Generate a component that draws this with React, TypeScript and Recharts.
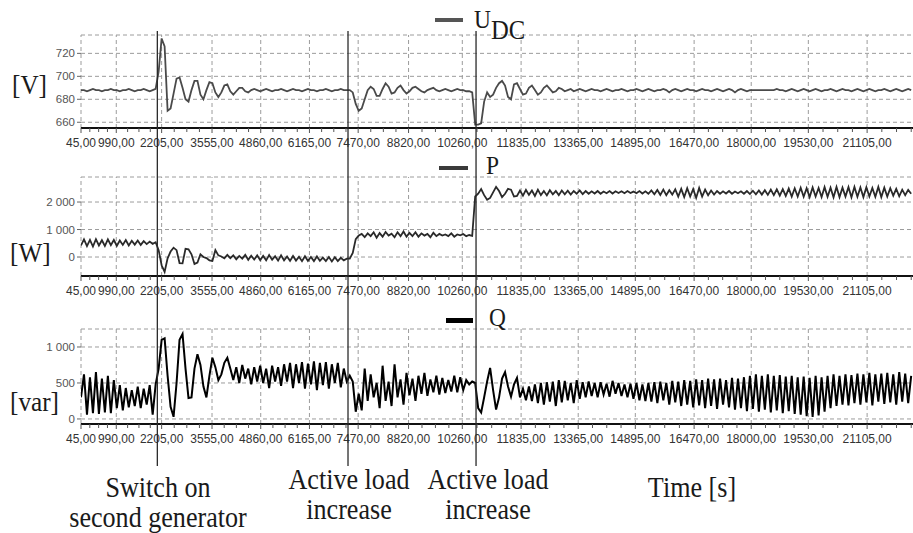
import React from "react";
import { CartesianGrid, Line, LineChart, ReferenceLine, XAxis, YAxis } from "recharts";

// sampling of the recorded signals
const T0 = 45;
const DT = 80;
const X_MAX = 22334;

const xTicks = [45, 990, 2205, 3555, 4860, 6165, 7470, 8820, 10260, 11835, 13365, 14895, 16470, 18000, 19530, 21105];
const events = [2090, 7198, 10628];

const uTicks = [660, 680, 700, 720];
const pTicks = [0, 1000, 2000];
const qTicks = [0, 500, 1000];

const uDC = [
    688, 688, 687, 688, 689, 688, 688, 687, 688, 688,
    689, 688, 688, 687, 688, 688, 689, 688, 687, 688,
    688, 689, 688, 687, 688, 689, 704, 733, 726, 670,
    672, 685, 698, 699, 690, 680, 678, 688, 696, 696,
    684, 680, 688, 695, 694, 686, 682, 686, 692, 693,
    687, 684, 687, 690, 690, 687, 686, 688, 689, 688,
    687, 688, 689, 688, 687, 688, 688, 689, 688, 687,
    688, 689, 688, 688, 687, 688, 689, 688, 688, 687,
    688, 688, 689, 688, 687, 688, 688, 689, 688, 688,
    688, 686, 676, 670, 672, 680, 688, 691, 689, 683,
    683, 689, 694, 691, 685, 686, 690, 692, 688, 685,
    687, 690, 691, 689, 687, 686, 688, 689, 690, 688,
    687, 688, 689, 688, 687, 688, 689, 688, 688, 687,
    687, 686, 658, 658, 659, 678, 686, 682, 684, 690,
    694, 696, 692, 682, 680, 693, 694, 689, 684, 685,
    690, 692, 688, 684, 686, 690, 692, 689, 686, 687,
    690, 689, 687, 688, 689, 687, 688, 689, 688, 687,
    688, 689, 688, 688, 687, 688, 689, 688, 687, 688,
    688, 689, 688, 687, 688, 688, 689, 688, 687, 688,
    689, 688, 687, 688, 688, 689, 688, 686, 688, 689,
    688, 687, 688, 689, 688, 688, 687, 688, 689, 688,
    688, 687, 688, 689, 688, 687, 688, 689, 688, 686,
    688, 689, 688, 687, 688, 688, 688, 688, 688, 688,
    688, 688, 688, 689, 688, 688, 687, 688, 689, 688,
    687, 688, 689, 688, 687, 688, 689, 688, 687, 688,
    688, 689, 688, 687, 688, 689, 688, 688, 687, 688,
    689, 688, 687, 688, 689, 688, 687, 688, 688, 689,
    688, 687, 688, 689, 688, 687, 688, 689, 688,
];

const pW = [
    420, 640, 400, 620, 380, 650, 420, 610, 400, 640,
    430, 620, 410, 600, 440, 620, 420, 590, 450, 600,
    440, 580, 470, 560, 480, 540, 250, -300, -540, -50,
    200, 340, 250, -220, -230, 300, 280, 100, -250, -200,
    100, 0, -40, -120, -140, 250, 60, 20, -50, 80,
    -40, 60, -80, 40, -60, 80, -100, 50, -90, 60,
    -110, 40, -120, 70, -100, 30, -130, 60, -120, 20,
    -140, 40, -130, 10, -150, 30, -140, 0, -150, 20,
    -140, -20, -150, 0, -160, -10, -150, -30, -120, -60,
    -60, 150, 650, 780, 840, 720, 860, 760, 900, 700,
    870, 740, 910, 780, 850, 720, 900, 760, 930, 740,
    880, 760, 900, 740, 860, 780, 840, 720, 880, 760,
    840, 780, 820, 760, 860, 740, 820, 790, 840, 760,
    800, 770, 2200, 2300, 2470, 2250, 2080, 2150, 2350, 2550,
    2400, 2180, 2300, 2480, 2450, 2200, 2220, 2420, 2230, 2440,
    2260, 2420, 2220, 2450, 2250, 2400, 2240, 2430, 2280, 2400,
    2250, 2420, 2280, 2410, 2270, 2400, 2300, 2420, 2290, 2400,
    2300, 2390, 2310, 2400, 2300, 2380, 2320, 2400, 2310, 2390,
    2330, 2390, 2320, 2400, 2330, 2380, 2320, 2400, 2310, 2390,
    2300, 2420, 2280, 2440, 2260, 2450, 2250, 2430, 2270, 2460,
    2200, 2480, 2180, 2500, 2200, 2470, 2150, 2510, 2200, 2450,
    2250, 2420, 2270, 2400, 2300, 2390, 2310, 2400, 2300, 2380,
    2320, 2390, 2300, 2400, 2290, 2410, 2280, 2420, 2270, 2430,
    2260, 2450, 2250, 2460, 2230, 2470, 2220, 2490, 2200, 2500,
    2200, 2520, 2190, 2500, 2180, 2530, 2200, 2510, 2180, 2540,
    2190, 2520, 2170, 2550, 2180, 2520, 2200, 2540, 2170, 2550,
    2190, 2530, 2180, 2540, 2200, 2510, 2190, 2550, 2180, 2520,
    2200, 2500, 2230, 2480, 2210, 2450, 2250, 2440, 2300,
];

const qVar = [
    300, 620, 60, 580, 80, 650, 70, 560, 90, 600,
    80, 540, 150, 470, 120, 430, 160, 400, 180, 450,
    150, 420, 200, 470, 60, 480, 700, 1100, 1120, 600,
    170, 30, 500, 1100, 1180, 700, 290, 300, 700, 900,
    750, 450, 300, 600, 850, 720, 540, 620, 780, 850,
    700, 540, 720, 500, 750, 560, 700, 480, 720, 520,
    740, 500, 700, 430, 740, 520, 720, 460, 760, 520,
    780, 430, 760, 500, 790, 420, 770, 480, 800, 400,
    780, 470, 790, 420, 760, 500, 780, 440, 700, 520,
    600, 520, 100, 350, 120, 700, 250, 620, 300, 500,
    150, 740, 250, 520, 180, 760, 300, 550, 200, 640,
    330, 560, 250, 600, 350, 640, 320, 550, 370, 600,
    340, 570, 360, 540, 380, 600, 370, 580, 400, 540,
    480, 520, 500, 150, 90, 300, 520, 710, 400, 130,
    300, 560, 650, 450, 310, 480, 570, 300, 420, 260,
    450, 250, 480, 220, 500, 200, 510, 240, 520, 180,
    540, 230, 530, 260, 500, 220, 540, 280, 510, 300,
    520, 320, 500, 300, 510, 340, 490, 310, 530, 350,
    500, 320, 480, 300, 490, 280, 500, 260, 480, 250,
    500, 240, 510, 220, 520, 260, 500, 200, 530, 230,
    520, 180, 540, 200, 530, 160, 550, 190, 540, 150,
    560, 180, 550, 140, 560, 200, 540, 160, 570, 130,
    560, 150, 580, 110, 600, 140, 620, 100, 600, 130,
    620, 90, 600, 120, 610, 80, 590, 110, 600, 70,
    580, 60, 590, 40, 570, 30, 600, 50, 580, 100,
    600, 150, 620, 180, 600, 200, 620, 190, 610, 220,
    630, 200, 620, 230, 640, 190, 620, 240, 630, 210,
    640, 230, 620, 200, 650, 240, 630, 220, 600,
];

const data = uDC.map((u, i) => ({ t: T0 + DT * i, u, p: pW[i], q: qVar[i] }));

// small ticks between the labelled ones (quarters)
const minorTicks: number[] = [];
xTicks.forEach((a, k) => {
    const b = k < xTicks.length - 1 ? xTicks[k + 1] : a + 1575;
    for (let j = 1; j < 4; j++) minorTicks.push(a + ((b - a) * j) / 4);
});
const allTicks = [...xTicks, ...minorTicks].sort((a, b) => a - b);
const majorSet = new Set(xTicks);

const fmtTime = (v: number) => v.toFixed(2).replace(".", ",");
const fmtVal = (v: number) => String(v).replace(/\B(?=(\d{3})+(?!\d))/g, " ");

const SERIF = '"Liberation Serif", "Times New Roman", serif';
const SANS = '"Liberation Sans", Arial, sans-serif';
const GRID = "#9c9c9c";

const TimeTick = (props: any) => {
    const { x, y, payload } = props;
    const major = majorSet.has(payload.value);
    return (
        <g>
            <line x1={x} x2={x} y1={y} y2={y + (major ? 5 : 4)} stroke="#555" />
            {major && (
                <text x={x} y={y + 10} dy="0.71em" textAnchor="middle" fill="#333" fontSize={12} fontFamily={SANS}>
                    {fmtTime(payload.value)}
                </text>
            )}
        </g>
    )
}

type PanelProps = {
    top: number
    height: number
    marginTop: number
    dataKey: string
    domain: [number, number]
    ticks: number[]
    stroke: string
    strokeWidth: number
}

const Panel = ({ top, height, marginTop, dataKey, domain, ticks, stroke, strokeWidth }: PanelProps) => {
    return (
        <div style={{ position: "absolute", left: 0, top }}>
            <LineChart width={913} height={height} data={data} margin={{ top: marginTop, right: 0, bottom: 0, left: 36 }}>
                <CartesianGrid vertical={false} stroke={GRID} strokeDasharray="4 3" />
                {xTicks.map((t) => (
                    <ReferenceLine key={t} x={t} stroke={GRID} strokeDasharray="4 3" />
                ))}
                <XAxis
                    type="number"
                    dataKey="t"
                    domain={[T0, X_MAX]}
                    ticks={allTicks}
                    interval={0}
                    height={30}
                    tickSize={0}
                    tickMargin={0}
                    tickLine={false}
                    tick={<TimeTick />}
                    axisLine={{ stroke: "#111", strokeWidth: 2 }}
                    allowDataOverflow
                />
                <YAxis
                    width={45}
                    domain={domain}
                    ticks={ticks}
                    interval={0}
                    allowDataOverflow
                    axisLine={false}
                    tickSize={4}
                    tickMargin={2}
                    tickLine={{ stroke: "#666" }}
                    tickFormatter={fmtVal}
                    tick={{ fill: "#555", fontSize: 11.5, fontFamily: SANS }}
                />
                <Line type="linear" dataKey={dataKey} stroke={stroke} strokeWidth={strokeWidth} dot={false} isAnimationActive={false} />
            </LineChart>
        </div>
    )
}

// serif labels of the figure are tall and narrow (Times squeezed horizontally)
const Text = ({ left, top, size, children, center, squeeze = 1 }: any) => (
    <div
        style={{
            position: "absolute",
            left: center ? left - 150 : left,
            width: center ? 300 : undefined,
            top,
            fontSize: size,
            lineHeight: center ? "30px" : `${size}px`,
            textAlign: center ? "center" : "left",
            whiteSpace: center ? "normal" : "nowrap",
            transform: squeeze !== 1 ? `scaleX(${squeeze})` : undefined,
            transformOrigin: center ? "50% 0" : "0 0",
        }}
    >
        {children}
    </div>
)

const Dash = ({ left, top, width, height, color }: any) => (
    <div style={{ position: "absolute", left, top, width, height, background: color }} />
)

export default function App() {
    return (
        <div
            style={{
                position: "absolute",
                left: 0,
                top: 0,
                width: 913,
                height: 533,
                background: "#fff",
                overflow: "hidden",
                fontFamily: SERIF,
                color: "#1a1a1a",
            }}
        >
            <Panel top={0} height={158} marginTop={35} dataKey="u" domain={[655, 736]} ticks={uTicks} stroke="#4a4a4a" strokeWidth={1.8} />
            <Panel top={150} height={156} marginTop={27} dataKey="p" domain={[-690, 2910]} ticks={pTicks} stroke="#2a2a2a" strokeWidth={1.8} />
            <Panel top={300} height={154} marginTop={29} dataKey="q" domain={[-70, 1250]} ticks={qTicks} stroke="#000" strokeWidth={2} />

            {/* event markers across all three panels */}
            <div style={{ position: "absolute", left: 0, top: 0 }}>
                <LineChart width={913} height={466} data={data} margin={{ top: 31, right: 0, bottom: 0, left: 81 }}>
                    <XAxis hide type="number" dataKey="t" domain={[T0, X_MAX]} allowDataOverflow />
                    <YAxis hide width={0} domain={[0, 1]} />
                    {events.map((t) => (
                        <ReferenceLine key={t} x={t} stroke="#2a2a2a" strokeWidth={1.3} />
                    ))}
                    <Line dataKey="u" stroke="none" dot={false} isAnimationActive={false} />
                </LineChart>
            </div>

            {/* legends */}
            <Dash left={435} top={18} width={28} height={4} color="#555" />
            <Text left={474} top={7} size={26} squeeze={0.9}>U</Text>
            <Text left={491} top={16} size={28} squeeze={0.88}>DC</Text>
            <Dash left={439} top={166} width={29} height={4} color="#3a3a3a" />
            <Text left={486} top={153} size={26} squeeze={0.9}>P</Text>
            <Dash left={446} top={318} width={27} height={5} color="#000" />
            <Text left={489} top={305} size={26} squeeze={0.9}>Q</Text>

            {/* units */}
            <Text left={12} top={71} size={28} squeeze={0.9}>[V]</Text>
            <Text left={10} top={239} size={28} squeeze={0.9}>[W]</Text>
            <Text left={10} top={388} size={28} squeeze={0.9}>[var]</Text>

            {/* annotations */}
            <Text center left={158} top={472} size={30} squeeze={0.87}>Switch on<br />second generator</Text>
            <Text center left={349} top={464} size={30} squeeze={0.87}>Active load<br />increase</Text>
            <Text center left={488} top={464} size={30} squeeze={0.87}>Active load<br />increase</Text>
            <Text center left={692} top={472} size={30} squeeze={0.87}>Time [s]</Text>
        </div>
    )
}
